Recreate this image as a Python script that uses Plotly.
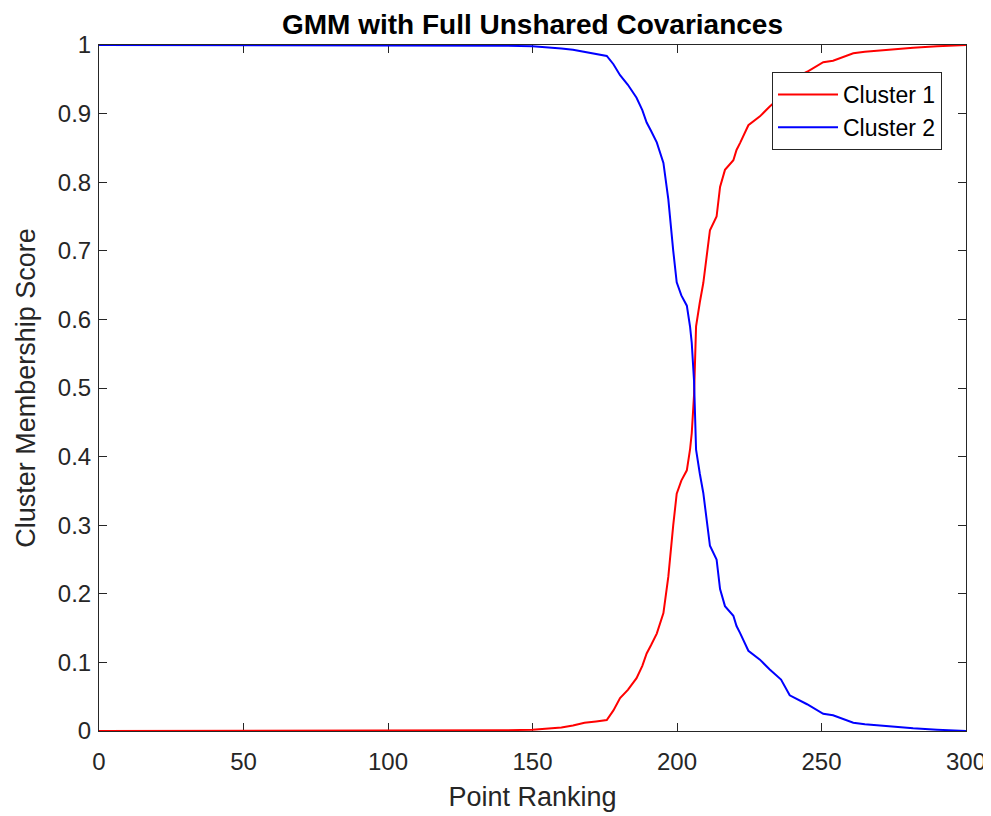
import plotly.graph_objects as go

# Point ranking positions (x) sampled along the curves
ranking = [0, 100, 140, 150, 155, 160, 164, 168, 172, 175.7, 178, 180.3, 183, 186, 188,
           189.5, 191, 193, 195.3, 197, 198.7, 199.9, 201.5, 203.4, 204.5, 205.1, 205.9,
           206.6, 207.9, 209.1, 211.4, 213.7, 214.9, 216.6, 219.5, 220.6, 221.8, 224.7,
           228.7, 232, 236, 239, 245, 250.6, 254, 257.6, 261, 265, 270.2, 276, 281.7,
           290, 300]

cluster1 = [0, 0.0005, 0.001, 0.002, 0.003, 0.005, 0.008, 0.012, 0.014, 0.016, 0.03, 0.048,
            0.06, 0.077, 0.095, 0.113, 0.125, 0.142, 0.172, 0.225, 0.30, 0.346, 0.365, 0.38,
            0.41, 0.434, 0.49, 0.59, 0.625, 0.653, 0.73, 0.75, 0.793, 0.818, 0.832, 0.847,
            0.857, 0.883, 0.896, 0.91, 0.925, 0.948, 0.961, 0.975, 0.977, 0.983, 0.988, 0.99,
            0.992, 0.994, 0.996, 0.998, 1.0]

cluster2 = [1, 0.9995, 0.999, 0.998, 0.997, 0.995, 0.993, 0.99, 0.987, 0.984, 0.972, 0.956,
            0.942, 0.923, 0.905, 0.887, 0.875, 0.858, 0.828, 0.775, 0.70, 0.654, 0.635, 0.62,
            0.59, 0.566, 0.51, 0.41, 0.375, 0.347, 0.27, 0.25, 0.207, 0.182, 0.168, 0.153,
            0.143, 0.117, 0.104, 0.09, 0.075, 0.052, 0.039, 0.025, 0.023, 0.017, 0.012, 0.01,
            0.008, 0.006, 0.004, 0.002, 0.0]

x_ticks = [0, 50, 100, 150, 200, 250, 300]
y_ticks = [0, 0.1, 0.2, 0.3, 0.4, 0.5, 0.6, 0.7, 0.8, 0.9, 1]
y_tick_labels = ["0", "0.1", "0.2", "0.3", "0.4", "0.5", "0.6", "0.7", "0.8", "0.9", "1"]

FONT = "Liberation Sans, Arial, Helvetica, sans-serif"
AX = "#262626"

# the page body has an 8px default margin; compensate so the plot lands where the reference has it
OFF = 8
W, H = 991, 816
PL, PR, PT, PB = 99 - OFF, 966 - OFF, 45 - OFF, 731 - OFF

fig = go.Figure()
fig.add_trace(go.Scatter(x=ranking, y=cluster1, mode="lines", name="Cluster 1",
                         line=dict(color="#FF0000", width=2)))
fig.add_trace(go.Scatter(x=ranking, y=cluster2, mode="lines", name="Cluster 2",
                         line=dict(color="#0000FF", width=2)))

axis_common = dict(showline=True, linecolor=AX, linewidth=1, mirror="allticks",
                   ticks="inside", ticklen=8, tickcolor=AX, tickwidth=1,
                   showgrid=False, zeroline=False, layer="below traces", automargin=False,
                   tickfont=dict(family=FONT, size=24, color=AX))

fig.update_layout(
    width=W, height=H,
    margin=dict(l=PL, r=W - PR, t=PT, b=H - PB, autoexpand=False),
    paper_bgcolor="white", plot_bgcolor="white",
    title=dict(text="<b>GMM with Full Unshared Covariances</b>",
               font=dict(family=FONT, size=28, color="black"),
               x=(PL + PR) / 2 / W, xanchor="center",
               y=1 - 16 / H, yanchor="middle"),
    xaxis=dict(range=[0, 300], tickvals=x_ticks, ticklabelstandoff=9,
               title=dict(text="Point Ranking", standoff=13,
                          font=dict(family=FONT, size=27, color=AX)),
               **axis_common),
    yaxis=dict(range=[0, 1], tickvals=y_ticks, ticktext=y_tick_labels, ticklabelstandoff=2,
               title=dict(text="Cluster Membership Score", standoff=14,
                          font=dict(family=FONT, size=27, color=AX)),
               **axis_common),
    legend=dict(x=(942 - 99) / 867, xanchor="right", y=(731 - 72) / 686, yanchor="top",
                bgcolor="white", bordercolor=AX, borderwidth=1,
                font=dict(family=FONT, size=23, color="black"),
                itemwidth=60, tracegroupgap=0),
    showlegend=True,
)

fig.write_html("out.html")
